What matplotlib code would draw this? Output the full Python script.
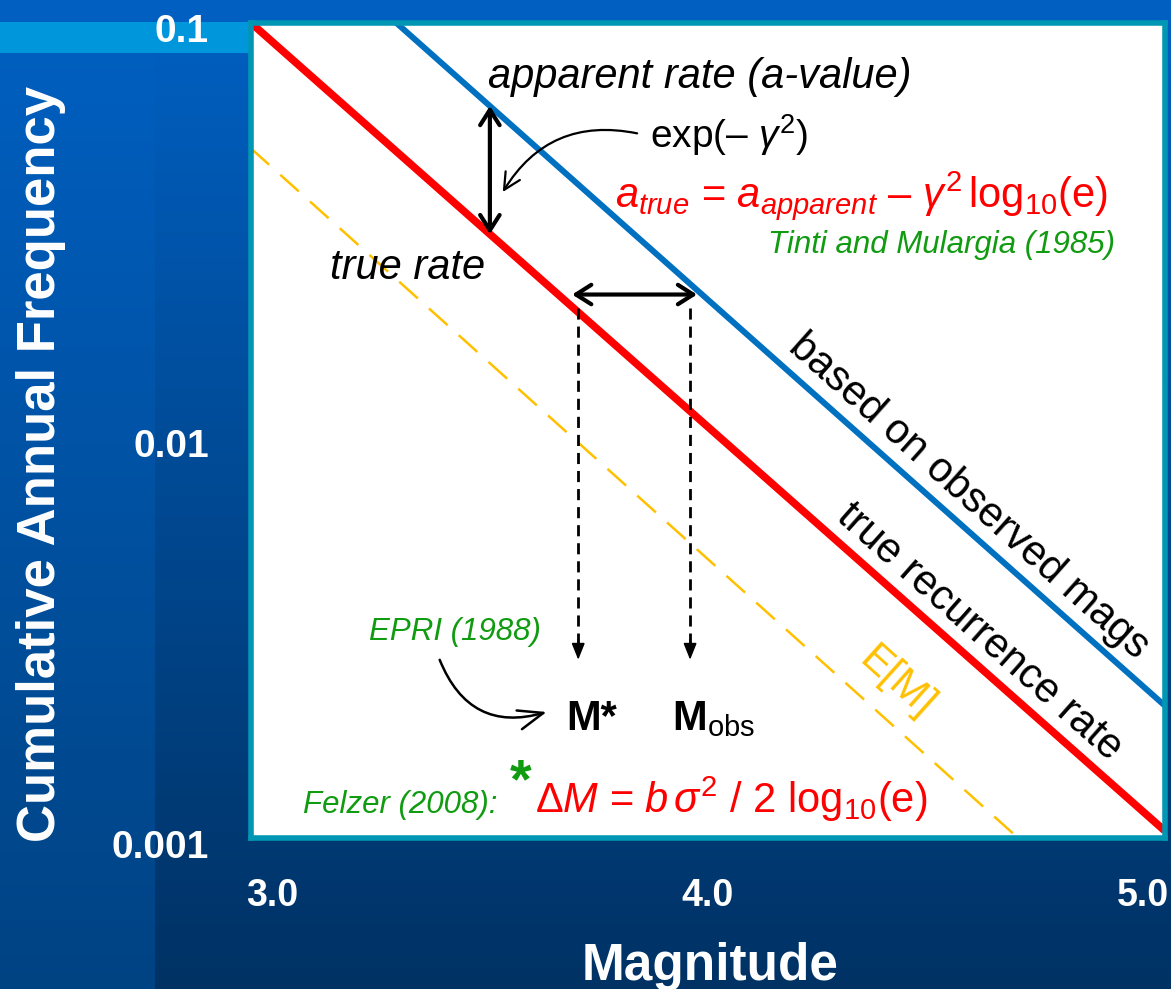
"""Gutenberg-Richter recurrence: true vs apparent rate (magnitude error bias)."""

import numpy as np
import matplotlib.pyplot as plt
from matplotlib.ticker import NullLocator
from matplotlib.transforms import ScaledTranslation

plt.rcParams["font.family"] = ["Liberation Sans", "DejaVu Sans"]
plt.rcParams["mathtext.fontset"] = "custom"
plt.rcParams["mathtext.rm"] = "Liberation Sans"
plt.rcParams["mathtext.it"] = "Liberation Sans:italic"
plt.rcParams["mathtext.bf"] = "Liberation Sans:bold"

# ─── values ─────────────────────────────────────────────────────────
magnitude = [2.95, 5.05]
true_rate = [0.1, 0.00104]          # true recurrence rate
observed_rate = [0.2075, 0.00211]   # based on observed mags
expected_rate = [0.0492, 0.000474]  # E[M]

a_arrow_mag = 3.5       # where the a-value shift is marked
m_star = 3.703
m_obs = 3.960
shift_rate = 0.0215     # level of the M* <-> Mobs arrow
drop_top = 0.0199       # dashed drop lines
drop_bottom = 0.00273

x_ticks = [3.0, 4.0, 5.0]
x_tick_labels = ["3.0", "4.0", "5.0"]
y_ticks = [0.001, 0.01, 0.1]
y_tick_labels = ["0.001", "0.01", "0.1"]

RED = "#ff0000"
BLUE = "#0070c0"
GOLD = "#ffc000"
GREEN = "#119b11"


def rate_at(m, rates):
    return 10 ** np.interp(m, magnitude, np.log10(rates))


W, H = 1171, 989
fig = plt.figure(figsize=(W / 100, H / 100), dpi=100)

# slide-style background gradient
t = np.linspace(0, 1, H)[:, None, None]
top = np.array([0x00, 0x60, 0xc2]) / 255
bot_r = np.array([0x00, 0x32, 0x64]) / 255
bot_l = np.array([0x00, 0x43, 0x83]) / 255
bg = np.repeat(top * (1 - t) + bot_r * t, W, axis=1)
bg[:, :155] = (top * (1 - t) + bot_l * t)[:, 0][:, None, :]
bg[22:53, :250] = np.array([0x00, 0x96, 0xdc]) / 255
bg_ax = fig.add_axes([0, 0, 1, 1])
bg_ax.imshow(bg, aspect="auto", extent=[0, 1, 0, 1])
bg_ax.axis("off")
bg_ax.set_zorder(-1)

ax = fig.add_axes([250.5 / W, 1 - 837.5 / H, 914 / W, 815 / H])
ax.set_facecolor("white")
ax.set_yscale("log")
ax.set_xlim(magnitude)
ax.set_ylim(0.001, 0.1)

ax.plot(magnitude, observed_rate, color=BLUE, lw=4.3, solid_capstyle="butt")
ax.plot(magnitude, true_rate, color=RED, lw=5.5, solid_capstyle="butt")
ax.plot(magnitude, expected_rate, color=GOLD, lw=1.8, dashes=(10, 6))

for s in ax.spines.values():
    s.set_color("#0096b4")
    s.set_linewidth(4)

ax.set_xticks(x_ticks, x_tick_labels)
ax.set_yticks(y_ticks, y_tick_labels)
ax.yaxis.set_minor_locator(NullLocator())
ax.tick_params(axis="both", length=0, labelcolor="white", labelsize=27)
ax.tick_params(axis="y", pad=30, labelsize=28)
ax.tick_params(axis="x", pad=29)
for lbl in ax.get_xticklabels() + ax.get_yticklabels():
    lbl.set_fontweight("bold")
# the slide's y labels sit a little below their ticks
for lbl, dy in zip(ax.get_yticklabels(), [-7, -13, -5]):
    lbl.set_transform(lbl.get_transform()
                      + ScaledTranslation(0, dy / 100, fig.dpi_scale_trans))

fig.text(710 / W, 1 - 980 / H, "Magnitude", ha="center", va="baseline",
         fontsize=37, fontweight="bold", color="white")
fig.text(55 / W, 1 - 464 / H, "Cumulative Annual Frequency", rotation=90,
         rotation_mode="anchor", ha="center", va="baseline",
         fontsize=38, fontweight="bold", color="white")

# a-value shift (vertical) and magnitude shift (horizontal)
ax.annotate("", xy=(a_arrow_mag, rate_at(a_arrow_mag, observed_rate)),
            xytext=(a_arrow_mag, rate_at(a_arrow_mag, true_rate)),
            arrowprops=dict(arrowstyle="<->,head_length=0.55,head_width=0.35",
                            lw=3, color="black", mutation_scale=20,
                            shrinkA=0, shrinkB=0))
ax.annotate("", xy=(m_star - 0.014, shift_rate), xytext=(m_obs + 0.016, shift_rate),
            arrowprops=dict(arrowstyle="<->,head_length=0.55,head_width=0.35",
                            lw=3, color="black", mutation_scale=20,
                            shrinkA=0, shrinkB=0))

# dashed drops to M* and Mobs
for m in (m_star, m_obs):
    ax.plot([m, m], [drop_top, drop_bottom * 1.06], color="black", lw=2,
            dashes=(4, 2.5))
    ax.annotate("", xy=(m, drop_bottom), xytext=(m, drop_bottom * 1.12),
                arrowprops=dict(arrowstyle="-|>,head_length=0.5,head_width=0.2",
                                lw=1.2, color="black", mutation_scale=20,
                                shrinkA=0, shrinkB=0))

T = ax.transAxes
ax.text(0.492, 0.933, "apparent rate (a-value)", transform=T, ha="center",
        va="center", fontsize=30, style="italic")
ax.text(0.437, 0.862, r"exp(– $\gamma^2$)", transform=T, ha="left",
        va="center", fontsize=28)
ax.annotate("", xy=(0.276, 0.792), xycoords=T, xytext=(0.423, 0.864),
            textcoords=T,
            arrowprops=dict(arrowstyle="->,head_length=0.6,head_width=0.3",
                            lw=1.6, color="black", mutation_scale=20,
                            shrinkA=0, shrinkB=0,
                            connectionstyle="arc3,rad=0.35"))
ax.text(0.938, 0.774, r"$a_{true}$ = $a_{apparent}$ – $\gamma^2\,$log$_{10}$(e)",
        transform=T, ha="right", va="baseline", fontsize=30, color=RED)
ax.text(0.946, 0.727, "Tinti and Mulargia (1985)", transform=T, ha="right",
        va="center", fontsize=22.5, style="italic", color=GREEN)
ax.text(0.087, 0.699, "true rate", transform=T, ha="left", va="center",
        fontsize=30, style="italic")

ax.text(0.786, 0.418, "based on observed mags", transform=T, ha="center",
        va="center", rotation=-41.7, fontsize=30)
ax.text(0.798, 0.252, "true recurrence rate", transform=T, ha="center",
        va="center", rotation=-41.5, fontsize=30)
ax.text(0.707, 0.190, "E[M]", transform=T, ha="center", va="center",
        rotation=-42, fontsize=30, color=GOLD)

ax.text(0.224, 0.252, "EPRI (1988)", transform=T, ha="center", va="center",
        fontsize=22.5, style="italic", color=GREEN)
ax.annotate("", xy=(0.324, 0.154), xycoords=T, xytext=(0.207, 0.218),
            textcoords=T,
            arrowprops=dict(arrowstyle="->,head_length=0.9,head_width=0.35",
                            lw=1.8, color="black", mutation_scale=20,
                            shrinkA=0, shrinkB=0,
                            connectionstyle="arc3,rad=0.45"))
ax.text(0.346, 0.132, "M*", transform=T, ha="left", va="baseline",
        fontsize=30, fontweight="bold")
ax.text(0.461, 0.132, r"$\mathbf{M}_{\mathrm{obs}}$", transform=T, ha="left",
        va="baseline", fontsize=30)

ax.text(0.0574, 0.030, "Felzer (2008):", transform=T, ha="left",
        va="baseline", fontsize=22.5, style="italic", color=GREEN)
ax.text(0.296, 0.066, "*", transform=T, ha="center", va="center",
        fontsize=40, fontweight="bold", color=GREEN)
ax.text(0.311, 0.030,
        r"$\mathit{\Delta M}$ = $b\,\sigma^2$ / 2 log$_{10}$(e)",
        transform=T, ha="left", va="baseline", fontsize=30, color=RED)

fig.savefig("out.png", dpi=100)
